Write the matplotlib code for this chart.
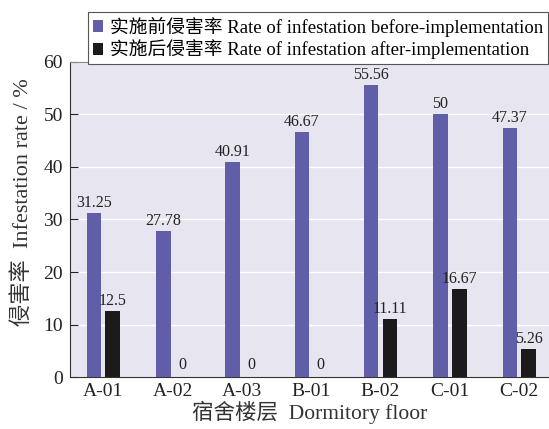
import numpy as np
import matplotlib.pyplot as plt

plt.rcParams['font.family'] = ['Liberation Serif', 'Noto Sans CJK SC']

floors = ['A-01', 'A-02', 'A-03', 'B-01', 'B-02', 'C-01', 'C-02']
before = [31.25, 27.78, 40.91, 46.67, 55.56, 50, 47.37]
after = [12.5, 0, 0, 0, 11.11, 16.67, 5.26]
before_txt = ['31.25', '27.78', '40.91', '46.67', '55.56', '50', '47.37']
after_txt = ['12.5', '0', '0', '0', '11.11', '16.67', '5.26']

purple = '#605ea9'
black = '#1c1a1b'

fig = plt.figure(figsize=(5.49, 4.29), dpi=100)
ax = fig.add_axes([0.1275, 0.1212, 0.8725, 0.7343])
ax.set_facecolor('#e6e5f0')

x = np.arange(len(floors))
w = 0.21
off = 0.135
b1 = ax.bar(x - off, before, w, color=purple, zorder=3,
            label='实施前侵害率 Rate of infestation before-implementation')
b2 = ax.bar(x + off, after, w, color=black, zorder=3,
            label='实施后侵害率 Rate of infestation after-implementation')

for i in range(len(floors)):
    ax.annotate(before_txt[i], (x[i] - off, before[i]), xytext=(0, 1.5),
                textcoords='offset points', ha='center', va='bottom',
                fontsize=11.5, color='#222222')
    ax.annotate(after_txt[i], (x[i] + off, after[i]), xytext=(0, 3 if after[i] == 0 else 1.5),
                textcoords='offset points', ha='center', va='bottom',
                fontsize=11.5, color='#222222')

ax.set_xlim(-0.48, 6.43)
ax.set_ylim(0, 60)
ax.set_yticks(range(0, 61, 10))
ax.set_xticks(x)
ax.set_xticklabels(floors)
ax.yaxis.grid(True, color='white', linewidth=1, zorder=0)
ax.set_axisbelow(True)
ax.tick_params(axis='y', direction='in', length=6, labelsize=14, colors='#222222', pad=5)
ax.tick_params(axis='x', length=0, labelsize=14, colors='#222222', pad=4)

ax.spines['top'].set_color('#8a8a8a')
ax.spines['right'].set_visible(False)
ax.spines['left'].set_color('#333333')
ax.spines['bottom'].set_color('#333333')

ax.set_xlabel('宿舍楼层  Dormitory floor', fontsize=15.5, color='#333333', labelpad=1)
ax.set_ylabel('侵害率  Infestation rate / %', fontsize=16, color='#333333')
ax.yaxis.set_label_coords(-0.077, 0.555)

leg = fig.legend(loc='upper left', bbox_to_anchor=(0.16, 0.972), fontsize=13.5,
                 handlelength=0.55, handleheight=0.6, handletextpad=0.4,
                 borderpad=0.25, labelspacing=0.15, fancybox=False, framealpha=1,
                 edgecolor='#555555', borderaxespad=0)
leg.get_frame().set_linewidth(0.8)

fig.savefig('out.png', dpi=100)
